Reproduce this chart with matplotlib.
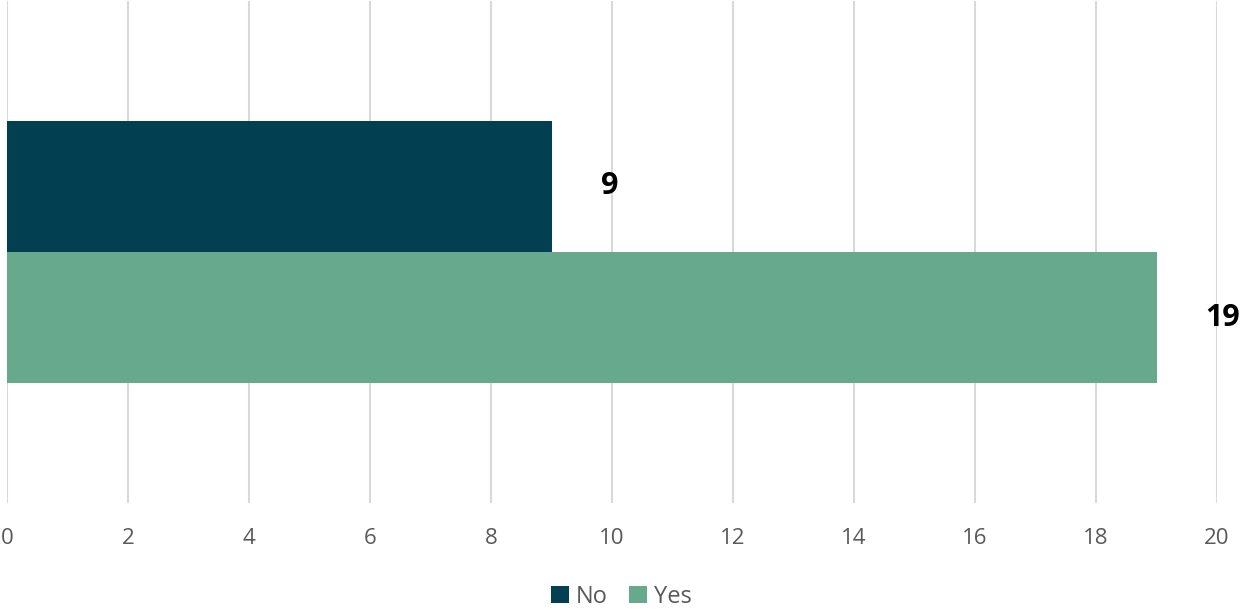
import matplotlib.pyplot as plt

series = ["No", "Yes"]
values = [9, 19]
colors = ["#023F50", "#66A98D"]
x_ticks = list(range(0, 21, 2))

plt.rcParams['font.family'] = ['Open Sans', 'DejaVu Sans']

fig = plt.figure(figsize=(12.43, 6.12), dpi=100)
ax = fig.add_axes([7 / 1243, 1 - 503 / 612, 1210 / 1243, 502 / 612])

# one category, two series stacked vertically (No on top)
positions = [0.5, -0.5]
bars = []
for name, val, col, pos in zip(series, values, colors, positions):
    b = ax.barh(pos, val, height=1.0, color=col, label=name, zorder=3)
    bars.append(b)
    ax.annotate(str(val), xy=(val, pos), xytext=(49, 0), textcoords="offset pixels",
                ha="left", va="center", fontsize=22, fontweight="bold", color="black",
                zorder=4, annotation_clip=False)

ax.set_xlim(0, 20)
ax.set_ylim(-1.916, 1.916)
ax.set_xticks(x_ticks)
ax.set_yticks([])
ax.tick_params(axis="x", length=0, pad=18, labelsize=16, labelcolor="#595959")
ax.grid(axis="x", color="#D9D9D9", linewidth=1.5, zorder=0)
for s in ax.spines.values():
    s.set_visible(False)

fig.legend(handles=[b[0] for b in bars], labels=series, loc="center",
           bbox_to_anchor=(0.5, 1 - 597 / 612), ncol=2, frameon=False,
           fontsize=17, labelcolor="#595959", handlelength=0.75, handleheight=0.75,
           handletextpad=0.3, columnspacing=0.9)

fig.savefig("out.png", dpi=100)
